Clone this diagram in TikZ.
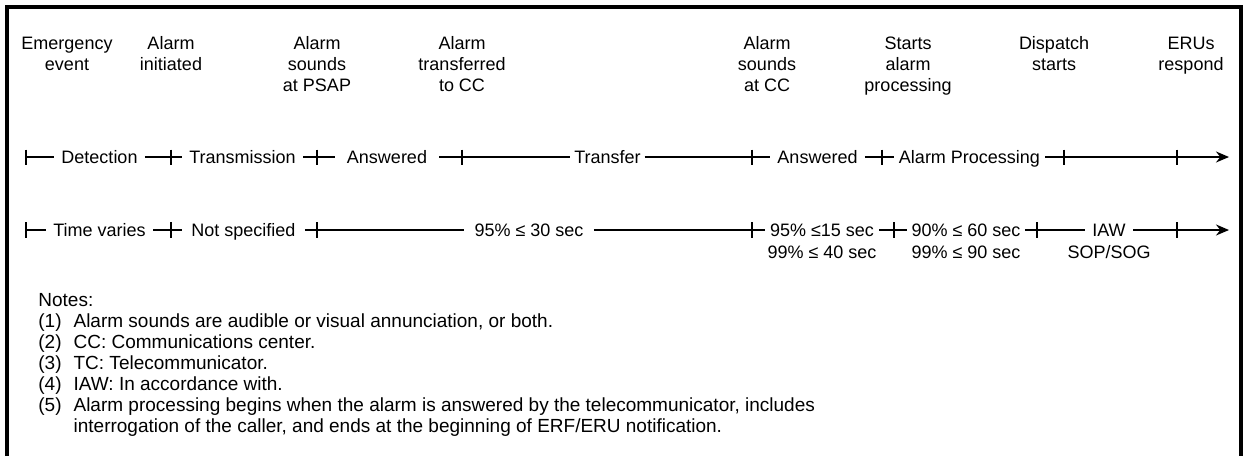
\documentclass[tikz,border=0pt]{standalone}
\usepackage{fontspec}
\setmainfont{Liberation Sans}
\usetikzlibrary{
		positioning,
		arrows.meta
	}
\tikzset{
		>={Stealth[length=6.5pt,width=5.5pt]}
	}

\begin{document}
\begin{tikzpicture}[x=0.5pt, y=-0.5pt,
				every node/.style={font=\fontsize{9}{10.5}\selectfont},
				milestone/.style={align=center, anchor=north, inner sep=0pt},
				phase/.style={inner xsep=3.5pt, inner ysep=0pt, text height=6.5pt, text depth=0pt},
				extra/.style={phase, below=4.25pt of #1},
				axis/.style={line width=0.8pt},
				frame/.style={line width=1.6pt}]
	\useasboundingbox (0,0) rectangle (1246,456);
	\draw[frame] (7,456) -- (7,7) -- (1241,7) -- (1241,456);

	\node[milestone] (ev)   at (67,36.5)   {Emergency\\event};
	\node[milestone] (ini)  at (171,36.5)  {Alarm\\initiated};
	\node[milestone] (psap) at (317,36.5)  {Alarm\\sounds\\at PSAP};
	\node[milestone] (tcc)  at (462,36.5)  {Alarm\\transferred\\to CC};
	\node[milestone] (scc)  at (767,36.5)  {Alarm\\sounds\\at CC};
	\node[milestone] (sap)  at (908,36.5)  {Starts\\alarm\\processing};
	\node[milestone] (dsp)  at (1054,36.5) {Dispatch\\starts};
	\node[milestone] (eru)  at (1191,36.5) {ERUs\\respond};

	% phases
	\coordinate (a0) at (26,157);
	\coordinate (a1) at (171,157);
	\coordinate (a2) at (317,157);
	\coordinate (a3) at (462,157);
	\coordinate (a4) at (752,157);
	\coordinate (a5) at (882,157);
	\coordinate (a6) at (1064,157);
	\coordinate (a7) at (1177,157);
	\coordinate (a8) at (1229,157);
	\node[phase] (det)  at (99.5,157)  {Detection};
	\node[phase] (trm)  at (242.5,157) {Transmission};
	\node[phase, inner xsep=6pt] (ans1) at (387,157) {Answered};
	\node[phase, inner xsep=1.75pt] (trf) at (607.5,157) {Transfer};
	\node[phase] (ans2) at (817.5,157) {Answered};
	\node[phase, inner xsep=2.5pt] (proc) at (969.5,157) {Alarm Processing};
	\draw[axis, ->] (a0) -- (det) -- (a1) -- (trm) -- (a2) -- (ans1) -- (a3) -- (trf) -- (a4)
		-- (ans2) -- (a5) -- (proc) -- (a6) -- (a7) -- (a8);
	\foreach \p in {a0,a1,a2,a3,a4,a5,a6,a7}
		\draw[axis] (\p) +(0,-7.5) -- +(0,7.5);

	% times
	\coordinate (b0) at (26,230);
	\coordinate (b1) at (171,230);
	\coordinate (b2) at (317,230);
	\coordinate (b3) at (752,230);
	\coordinate (b4) at (894,230);
	\coordinate (b5) at (1037,230);
	\coordinate (b6) at (1177,230);
	\coordinate (b7) at (1229,230);
	\node[phase] (tv)  at (99.5,230)  {Time varies};
	\node[phase, inner xsep=4.5pt] (ns) at (243.5,230) {Not specified};
	\node[phase, inner xsep=5pt] (s30) at (529,230) {95\% ≤ 30 sec};
	\node[phase, inner xsep=2.5pt] (a15) at (822,230) {95\% ≤15 sec};
	\node[phase, inner xsep=2pt] (p60) at (966,230) {90\% ≤ 60 sec};
	\node[phase] (iaw) at (1109,230) {IAW};
	\node[extra=a15] (a40) {99\% ≤ 40 sec};
	\node[extra=p60] (p90) {99\% ≤ 90 sec};
	\node[extra=iaw] (sop) {SOP/SOG};
	\draw[axis, ->] (b0) -- (tv) -- (b1) -- (ns) -- (b2) -- (s30) -- (b3) -- (a15) -- (b4)
		-- (p60) -- (b5) -- (iaw) -- (b6) -- (b7);
	\foreach \p in {b0,b1,b2,b3,b4,b5,b6}
		\draw[axis] (\p) +(0,-8) -- +(0,8);

	\node[anchor=north west, inner sep=0pt, font=\fontsize{9.5}{10.5}\selectfont] (notes) at (38,291) {%
		\begin{tabular}{@{}l@{\hspace{6pt}}l@{}}
			\multicolumn{2}{@{}l}{Notes:}\\
			(1) & Alarm sounds are audible or visual annunciation, or both.\\
			(2) & CC: Communications center.\\
			(3) & TC: Telecommunicator.\\
			(4) & IAW: In accordance with.\\
			(5) & Alarm processing begins when the alarm is answered by the telecommunicator, includes\\
			    & interrogation of the caller, and ends at the beginning of ERF/ERU notification.
		\end{tabular}};
\end{tikzpicture}
\end{document}
